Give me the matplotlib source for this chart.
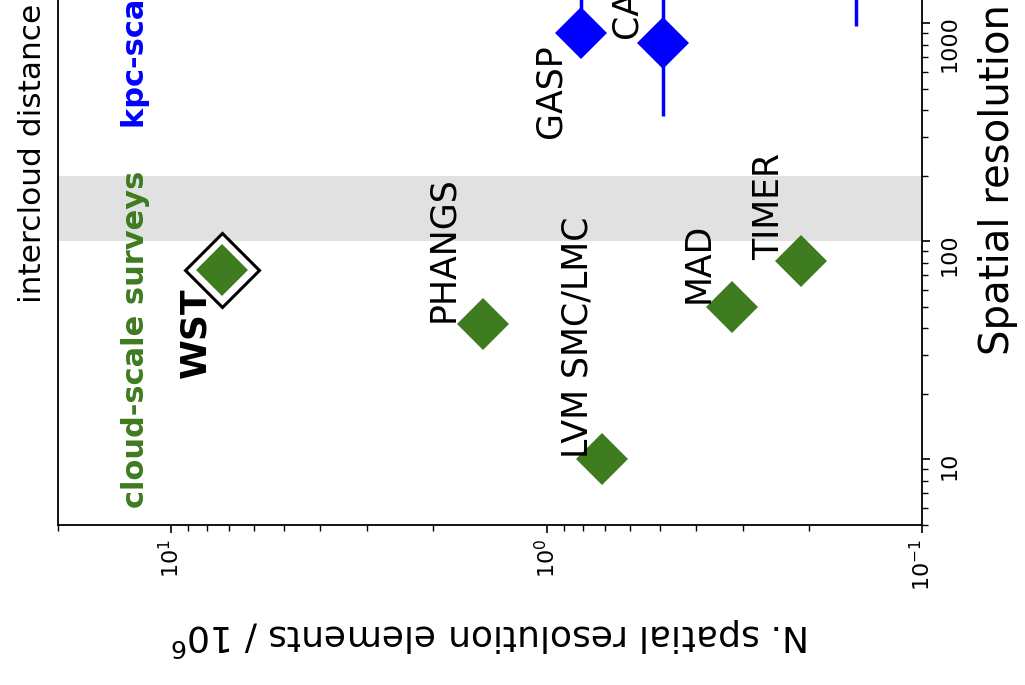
import matplotlib
matplotlib.use("Agg")
import matplotlib.pyplot as plt
from matplotlib.ticker import FuncFormatter, NullFormatter

# cloud-scale surveys (green)
cloud_names = ["WST", "PHANGS", "LVM SMC/LMC", "MAD", "TIMER"]
cloud_nelem = [7.3, 1.48, 0.71, 0.32, 0.21]     # N. spatial resolution elements / 1e6
cloud_res = [74, 42, 10, 50, 81]                # spatial resolution [pc]

# kpc-scale surveys (blue)
kpc_names = ["GASP", "CALIFA", "MaNGA"]
kpc_nelem = [0.81, 0.49, 0.15]
kpc_res = [900, 810, 2000]
kpc_err_lo = [0, 436, 1030]
kpc_err_hi = [600, 944, 2000]

# intercloud distance band [pc]
band = (100, 200)

green = "#3e7b1f"
blue = "blue"

# label offsets (points) from each marker
offsets = {"WST": (-12, -78), "PHANGS": (-21, 1), "LVM SMC/LMC": (-11, 1),
           "MAD": (-17, 3), "TIMER": (-16, 1), "GASP": (-15, -75), "CALIFA": (-19, 4)}

fig = plt.figure(figsize=(10.25, 6.85), dpi=100)
ax = fig.add_axes([58/1025, 160/685, 864/1025, 654/685])

ax.axhspan(band[0], band[1], color="#e1e1e1", zorder=0, lw=0)

# WST highlighted with an open outline
ax.plot(cloud_nelem[0], cloud_res[0], "D", ms=38, mfc="white", mec="black", mew=2.2, zorder=3)
ax.plot(cloud_nelem, cloud_res, "D", ls="none", color=green, ms=26, mew=0, zorder=4)
ax.errorbar(kpc_nelem, kpc_res, yerr=[kpc_err_lo, kpc_err_hi], fmt="D", color=blue,
            ms=26, mew=0, elinewidth=2.5, capsize=0, zorder=4)

for name, n, r in zip(cloud_names + kpc_names, cloud_nelem + kpc_nelem, cloud_res + kpc_res):
    if name not in offsets:
        continue
    bold = name == "WST"
    ax.annotate(name, (n, r), xytext=offsets[name], textcoords="offset points",
                rotation=90, rotation_mode="anchor", ha="left", va="baseline",
                fontsize=26 if bold else 25, fontweight="bold" if bold else "normal",
                zorder=5)

ax.text(11.8, 6.0, "cloud-scale surveys", color=green, fontweight="bold", fontsize=22,
        rotation=90, rotation_mode="anchor", ha="left", va="baseline")
ax.text(11.8, 330, "kpc-scale surveys", color=blue, fontweight="bold", fontsize=22,
        rotation=90, rotation_mode="anchor", ha="left", va="baseline")
ax.text(22.2, 52, "intercloud distance", fontsize=22.5, rotation=90,
        rotation_mode="anchor", ha="left", va="baseline", clip_on=False)

ax.set_xscale("log")
ax.set_yscale("log")
ax.set_xlim(20, 0.1)
ax.set_ylim(5, 5000)

ax.yaxis.tick_right()
ax.yaxis.set_label_position("right")
ax.yaxis.set_major_formatter(FuncFormatter(lambda v, p: f"{v:g}"))
ax.yaxis.set_minor_formatter(NullFormatter())
ax.xaxis.set_minor_formatter(NullFormatter())

ax.tick_params(which="major", length=6, width=1.2, direction="out", labelsize=16,
               labelrotation=90)
ax.tick_params(axis="x", which="major", pad=4)
ax.tick_params(axis="y", which="major", pad=7)
ax.tick_params(which="minor", length=4, width=1.0, direction="out")
for s in ax.spines.values():
    s.set_linewidth(1.3)

ax.set_xlabel("N. spatial resolution elements / 10$^6$", fontsize=26, rotation=180)
ax.xaxis.set_label_coords(0.5, -0.1376)
ax.set_ylabel("Spatial resolution [pc]", fontsize=29)
ax.yaxis.label.set(rotation=90, rotation_mode="anchor", ha="left", va="baseline")
ax.yaxis.set_label_coords(1.1007, 0.260)

fig.savefig("out.png", dpi=100)
